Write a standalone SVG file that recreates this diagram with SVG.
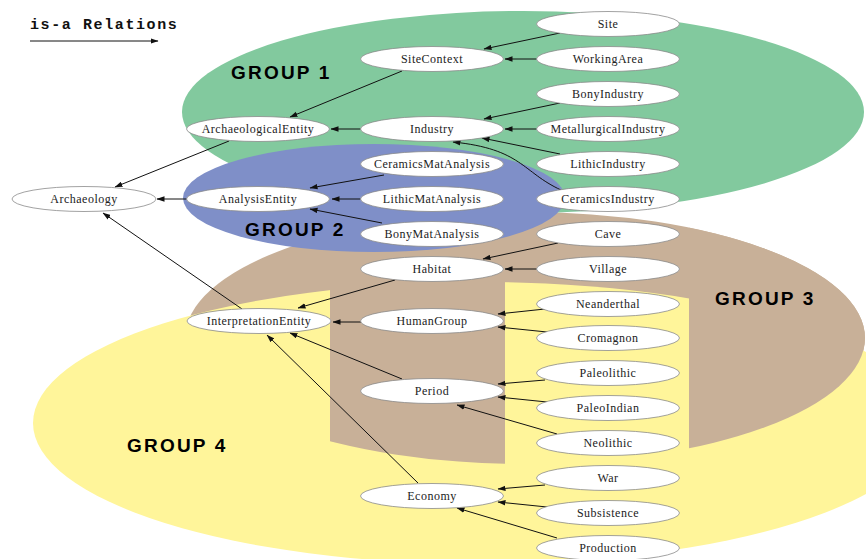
<svg xmlns="http://www.w3.org/2000/svg" width="866" height="559" viewBox="0 0 866 559">
<style>
.n ellipse{fill:#fff;stroke:#8a8a8a;stroke-width:0.8}
.n text{font-family:"Liberation Serif","Times New Roman",serif;font-size:12px;letter-spacing:0.5px;fill:#222;text-anchor:middle}
.e line,.e path{stroke:#111;stroke-width:1;fill:none;marker-end:url(#ah)}
.g{font-family:"Liberation Sans",Arial,sans-serif;font-weight:bold;font-size:19px;letter-spacing:2.2px;fill:#000}
</style>
<defs>
<marker id="ah" markerWidth="8" markerHeight="6" refX="7.5" refY="3" orient="auto" markerUnits="userSpaceOnUse"><path d="M0,0.3 L8,3 L0,5.7 z" fill="#111"/></marker>
<clipPath id="cols"><rect x="330" y="190" width="175" height="320"/><rect x="689" y="190" width="200" height="320"/></clipPath>
</defs>
<rect width="866" height="559" fill="#fff"/>
<g id="groups">
<ellipse cx="525" cy="338" rx="340" ry="126" fill="#C8B098"/>
<ellipse cx="480" cy="423" rx="447" ry="141" fill="#FFF59A"/>
<ellipse cx="525" cy="338" rx="340" ry="126" fill="#C8B098" clip-path="url(#cols)"/>
<ellipse cx="523" cy="112" rx="341" ry="101" fill="#82C99E"/>
<ellipse cx="374" cy="198" rx="191" ry="54" fill="#7F8FC8"/>
<text class="g" x="231" y="79">GROUP 1</text>
<text class="g" x="245" y="236">GROUP 2</text>
<text class="g" x="715" y="305">GROUP 3</text>
<text class="g" x="127" y="452">GROUP 4</text>
</g>
<g id="legend">
<text x="30" y="29" style="font-family:'Liberation Mono','Courier New',monospace;font-weight:bold;font-size:15px;letter-spacing:1.6px;fill:#111">is-a Relations</text>
<line x1="30" y1="41" x2="158" y2="41" stroke="#111" stroke-width="1" marker-end="url(#ah)"/>
</g>
<g id="connectors" class="e">
<line x1="560" y1="33" x2="484" y2="49"/>
<line x1="537" y1="59" x2="505" y2="59"/>
<line x1="402" y1="71" x2="290" y2="117"/>
<line x1="560" y1="103" x2="484" y2="119"/>
<line x1="537" y1="129" x2="505" y2="129"/>
<line x1="560" y1="154" x2="482" y2="138"/>
<path d="M561,190 C522,172 522,149 453,142"/>
<line x1="361" y1="129" x2="331" y2="129"/>
<line x1="229" y1="141" x2="115" y2="187"/>
<line x1="384" y1="175" x2="310" y2="188"/>
<line x1="361" y1="199" x2="332" y2="199"/>
<line x1="382" y1="223" x2="310" y2="209"/>
<line x1="187" y1="199" x2="157" y2="199"/>
<line x1="558" y1="243" x2="483" y2="259"/>
<line x1="537" y1="269" x2="505" y2="269"/>
<line x1="395" y1="280" x2="298" y2="308"/>
<line x1="242" y1="309" x2="103" y2="213"/>
<line x1="361" y1="322" x2="333" y2="322"/>
<line x1="545" y1="309" x2="498" y2="314"/>
<line x1="547" y1="332" x2="498" y2="327"/>
<line x1="402" y1="379" x2="290" y2="333"/>
<line x1="545" y1="380" x2="498" y2="384"/>
<line x1="547" y1="402" x2="498" y2="397"/>
<line x1="557" y1="434" x2="457" y2="405"/>
<line x1="418" y1="483" x2="267" y2="335"/>
<line x1="545" y1="485" x2="498" y2="489"/>
<line x1="547" y1="507" x2="498" y2="502"/>
<line x1="557" y1="538" x2="457" y2="508"/>
</g>
<g id="n-Site" class="n"><ellipse cx="608" cy="24" rx="71.5" ry="12.5"/><text x="608" y="28">Site</text></g>
<g id="n-SiteContext" class="n"><ellipse cx="432" cy="59" rx="71.5" ry="12.5"/><text x="432" y="63">SiteContext</text></g>
<g id="n-WorkingArea" class="n"><ellipse cx="608" cy="59" rx="71.5" ry="12.5"/><text x="608" y="63">WorkingArea</text></g>
<g id="n-BonyIndustry" class="n"><ellipse cx="608" cy="94" rx="71.5" ry="12.5"/><text x="608" y="98">BonyIndustry</text></g>
<g id="n-ArchaeologicalEntity" class="n"><ellipse cx="258" cy="129" rx="71.5" ry="12.5"/><text x="258" y="133">ArchaeologicalEntity</text></g>
<g id="n-Industry" class="n"><ellipse cx="432" cy="129" rx="71.5" ry="12.5"/><text x="432" y="133">Industry</text></g>
<g id="n-MetallurgicalIndustry" class="n"><ellipse cx="608" cy="129" rx="71.5" ry="12.5"/><text x="608" y="133">MetallurgicalIndustry</text></g>
<g id="n-LithicIndustry" class="n"><ellipse cx="608" cy="164" rx="71.5" ry="12.5"/><text x="608" y="168">LithicIndustry</text></g>
<g id="n-CeramicsMatAnalysis" class="n"><ellipse cx="432" cy="164" rx="71.5" ry="12.5"/><text x="432" y="168">CeramicsMatAnalysis</text></g>
<g id="n-Archaeology" class="n"><ellipse cx="84" cy="199" rx="72" ry="12.5"/><text x="84" y="203">Archaeology</text></g>
<g id="n-AnalysisEntity" class="n"><ellipse cx="258" cy="199" rx="71.5" ry="12.5"/><text x="258" y="203">AnalysisEntity</text></g>
<g id="n-LithicMatAnalysis" class="n"><ellipse cx="432" cy="199" rx="71.5" ry="12.5"/><text x="432" y="203">LithicMatAnalysis</text></g>
<g id="n-CeramicsIndustry" class="n"><ellipse cx="608" cy="199" rx="71.5" ry="12.5"/><text x="608" y="203">CeramicsIndustry</text></g>
<g id="n-BonyMatAnalysis" class="n"><ellipse cx="432" cy="234" rx="71.5" ry="12.5"/><text x="432" y="238">BonyMatAnalysis</text></g>
<g id="n-Cave" class="n"><ellipse cx="608" cy="234" rx="71.5" ry="12.5"/><text x="608" y="238">Cave</text></g>
<g id="n-Habitat" class="n"><ellipse cx="432" cy="269" rx="71.5" ry="12.5"/><text x="432" y="273">Habitat</text></g>
<g id="n-Village" class="n"><ellipse cx="608" cy="269" rx="71.5" ry="12.5"/><text x="608" y="273">Village</text></g>
<g id="n-Neanderthal" class="n"><ellipse cx="608" cy="304" rx="71.5" ry="12.5"/><text x="608" y="308">Neanderthal</text></g>
<g id="n-InterpretationEntity" class="n"><ellipse cx="259" cy="321" rx="72" ry="12.5"/><text x="259" y="325">InterpretationEntity</text></g>
<g id="n-HumanGroup" class="n"><ellipse cx="432" cy="321" rx="71.5" ry="12.5"/><text x="432" y="325">HumanGroup</text></g>
<g id="n-Cromagnon" class="n"><ellipse cx="608" cy="338" rx="71.5" ry="12.5"/><text x="608" y="342">Cromagnon</text></g>
<g id="n-Paleolithic" class="n"><ellipse cx="608" cy="373" rx="71.5" ry="12.5"/><text x="608" y="377">Paleolithic</text></g>
<g id="n-Period" class="n"><ellipse cx="432" cy="391" rx="71.5" ry="12.5"/><text x="432" y="395">Period</text></g>
<g id="n-PaleoIndian" class="n"><ellipse cx="608" cy="408" rx="71.5" ry="12.5"/><text x="608" y="412">PaleoIndian</text></g>
<g id="n-Neolithic" class="n"><ellipse cx="608" cy="443" rx="71.5" ry="12.5"/><text x="608" y="447">Neolithic</text></g>
<g id="n-War" class="n"><ellipse cx="608" cy="478" rx="71.5" ry="12.5"/><text x="608" y="482">War</text></g>
<g id="n-Economy" class="n"><ellipse cx="432" cy="496" rx="71.5" ry="12.5"/><text x="432" y="500">Economy</text></g>
<g id="n-Subsistence" class="n"><ellipse cx="608" cy="513" rx="71.5" ry="12.5"/><text x="608" y="517">Subsistence</text></g>
<g id="n-Production" class="n"><ellipse cx="608" cy="548" rx="71.5" ry="12.5"/><text x="608" y="552">Production</text></g>
</svg>
